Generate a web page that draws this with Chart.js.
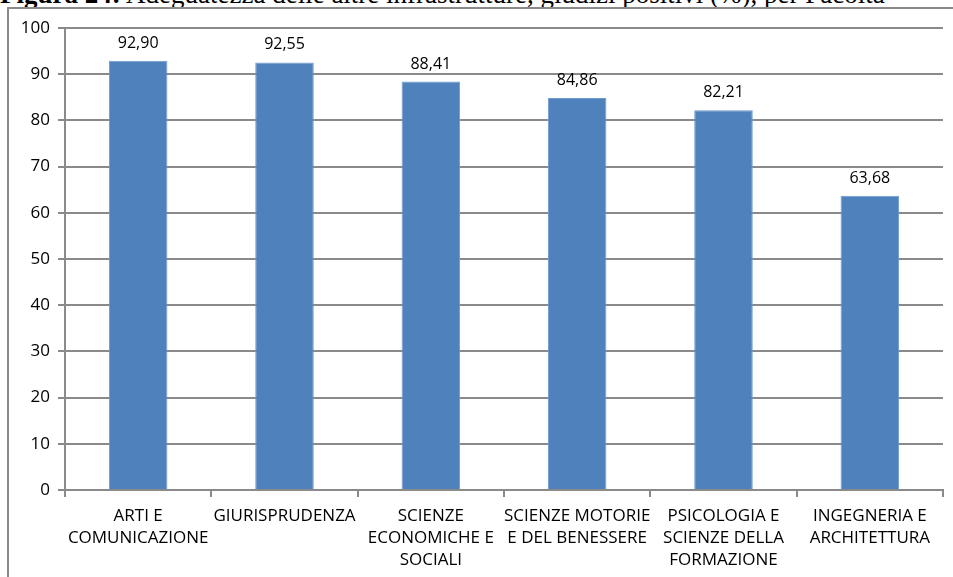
<!DOCTYPE html>
<html><head><meta charset="utf-8">
<script src="https://cdn.jsdelivr.net/npm/chart.js@4/dist/chart.umd.min.js"></script>
<style>
html,body{margin:0;padding:0;background:#fff;width:953px;height:577px;overflow:hidden;position:relative}
#title{position:absolute;left:0;top:-21px;font-family:"Liberation Serif","Times New Roman",serif;font-size:27px;line-height:30px;white-space:nowrap;color:#000}
#wrap{position:absolute;left:0;top:0;width:953px;height:577px}
</style></head><body>
<div id="title"><b>Figura 24:</b> Adeguatezza delle altre infrastrutture, giudizi positivi (%), per Facoltà</div>
<div id="wrap"><canvas id="c" width="953" height="577"></canvas></div>
<script>
const categories = [
  ["ARTI E","COMUNICAZIONE"],
  ["GIURISPRUDENZA"],
  ["SCIENZE","ECONOMICHE E","SOCIALI"],
  ["SCIENZE MOTORIE","E DEL BENESSERE"],
  ["PSICOLOGIA E","SCIENZE DELLA","FORMAZIONE"],
  ["INGEGNERIA E","ARCHITETTURA"]
];
const values = [92.90, 92.55, 88.41, 84.86, 82.21, 63.68];
const valueLabels = ["92,90","92,55","88,41","84,86","82,21","63,68"];
const yTicks = [0,10,20,30,40,50,60,70,80,90,100];

const framePlugin = {
  id:'frame',
  beforeDraw(chart){
    const ctx = chart.ctx;
    ctx.save();
    ctx.strokeStyle = '#8a8a8a';
    ctx.lineWidth = 2;
    ctx.beginPath();
    ctx.moveTo(8, chart.height + 5);
    ctx.lineTo(8, 8);
    ctx.lineTo(chart.width + 5, 8);
    ctx.stroke();
    ctx.restore();
  }
};

const labelPlugin = {
  id:'vlabels',
  afterDatasetsDraw(chart){
    const ctx = chart.ctx;
    const meta = chart.getDatasetMeta(0);
    ctx.save();
    ctx.font = '16px "Open Sans"';
    ctx.fillStyle = '#000';
    ctx.textAlign = 'center';
    ctx.textBaseline = 'alphabetic';
    meta.data.forEach((bar,i)=>{
      ctx.fillText(valueLabels[i], bar.x, bar.y - 13);
    });
    ctx.restore();
  }
};

new Chart(document.getElementById('c'), {
  type:'bar',
  data:{labels:categories, datasets:[{data:values, backgroundColor:'#4F81BD', borderColor:'#6E9AD0', borderWidth:{left:1,right:1,top:1,bottom:0}, categoryPercentage:1, barPercentage:0.4}]},
  options:{
    responsive:false, animation:false,
    layout:{padding:{left:7,right:10,top:28,bottom:0}},
    plugins:{legend:{display:false}, tooltip:{enabled:false}},
    scales:{
      x:{
        offset:true,
        grid:{offset:true, drawOnChartArea:false, drawTicks:true, tickLength:7, color:'#8a8a8a', lineWidth:2},
        border:{color:'#8a8a8a', width:2},
        ticks:{color:'#000', font:{family:'"Open Sans"', size:17, lineHeight:1.3}, padding:8, maxRotation:0, autoSkip:false},
        afterFit(s){ s.height = 87; }
      },
      y:{
        min:0, max:100,
        afterBuildTicks(s){ s.ticks = yTicks.map(v=>({value:v})); },
        grid:{color:'#8a8a8a', lineWidth:2, tickLength:7},
        border:{color:'#8a8a8a', width:2},
        ticks:{color:'#000', font:{family:'"Open Sans"', size:17}, padding:8},
        afterFit(s){ s.width = 58; }
      }
    }
  },
  plugins:[framePlugin, labelPlugin]
});
</script>
</body></html>
